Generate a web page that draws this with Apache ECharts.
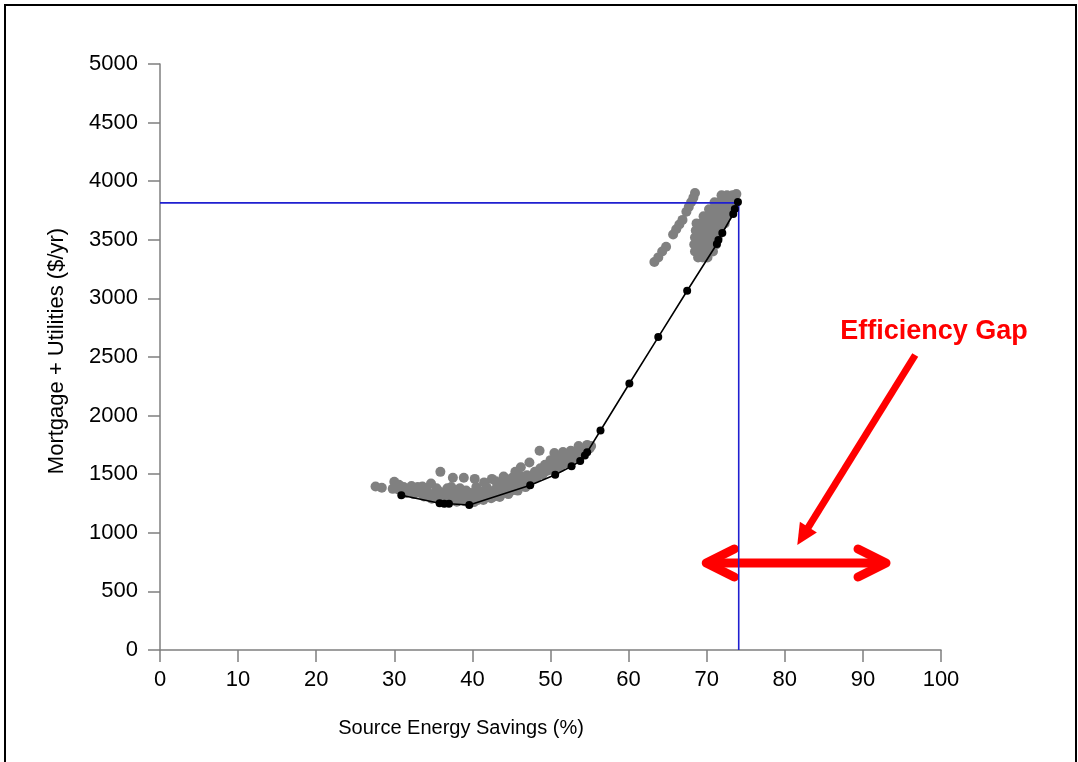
<!DOCTYPE html>
<html>
<head>
<meta charset="utf-8">
<script src="https://cdn.jsdelivr.net/npm/echarts@6/dist/echarts.min.js"></script>
<style>
html,body{margin:0;padding:0;background:#fff;}
#main{width:1078px;height:762px;}
</style>
</head>
<body>
<div id="main"></div>
<script>
// ---- Data ----
const xTicks = [0,10,20,30,40,50,60,70,80,90,100];
const yTicks = [0,500,1000,1500,2000,2500,3000,3500,4000,4500,5000];

// Gray simulation points, lower cluster
const grayLow = [
  [27.6,1395],[28.4,1385],[30.0,1435],[29.8,1375],[30.6,1410],[31.2,1390],[31.8,1360],[32.2,1400],
  [32.8,1370],[33.3,1340],[33.6,1395],[34.2,1355],[34.7,1420],[35.0,1330],[35.4,1380],[35.9,1520],
  [36.0,1300],[36.5,1350],[37.0,1310],[37.3,1390],[37.5,1470],[37.8,1290],[38.2,1340],[38.6,1300],
  [38.9,1470],[39.2,1360],[39.6,1290],[40.0,1320],[40.3,1460],[40.7,1280],[41.0,1350],[41.4,1300],
  [41.8,1390],[42.2,1330],[42.5,1460],[42.9,1370],[43.3,1410],[43.6,1340],[44.0,1440],[44.4,1380],
  [44.8,1420],[45.1,1470],[45.5,1400],[45.9,1450],[46.2,1560],[46.6,1430],[47.0,1490],[47.3,1600],
  [47.7,1460],[48.0,1520],[48.3,1480],[48.6,1700],[48.7,1550],[49.0,1500],[49.3,1580],[49.6,1530],
  [50.0,1620],[50.3,1560],[50.5,1680],[50.8,1600],[51.1,1640],[51.3,1560],[51.6,1690],[52.0,1620],
  [52.3,1660],[52.6,1700],[53.0,1650],[53.3,1700],[53.6,1740],[54.0,1680],[54.3,1720],[54.7,1750],
  [55.0,1720],[36.8,1270],[38.0,1265],[39.0,1270],[40.2,1262],[41.4,1280],[42.4,1295],[43.5,1305],
  [33.8,1310],[34.8,1290],[44.6,1330],[45.8,1360],[46.8,1390],[35.6,1360],[37.9,1330],[39.8,1340],
  [30.5,1370],[31.5,1340],[32.5,1330],[33.0,1390],[34.0,1380],[35.2,1300],[36.2,1320],[36.8,1380],
  [37.6,1350],[38.4,1380],[39.4,1320],[40.5,1390],[41.2,1320],[42.0,1360],[42.8,1310],[43.8,1370],
  [44.2,1340],[45.0,1360],[45.3,1420],[46.0,1400],[46.4,1480],[47.2,1440],[47.9,1470],[48.4,1520],
  [49.2,1520],[49.8,1560],[50.2,1590],[50.9,1560],[51.5,1610],[52.2,1590],[52.8,1630],[53.4,1650],
  [54.2,1700],[55.2,1740],[44.0,1480],[45.5,1520],[41.5,1430],[43.0,1440]
];

// Gray simulation points, upper cluster
const grayHigh = [
  [68.5,3900],[68.3,3860],[68.0,3820],[67.7,3780],[67.4,3740],
  [66.9,3670],[66.5,3630],[66.1,3590],[65.7,3545],
  [64.8,3440],[64.3,3400],[63.8,3350],[63.3,3310],
  [71.9,3880],[72.6,3880],[73.3,3880],[73.8,3890],
  [71.0,3820],[71.6,3820],[72.2,3820],[72.8,3820],[73.4,3820],
  [70.3,3760],[70.9,3760],[71.5,3760],[72.1,3760],[72.7,3760],[73.2,3760],
  [69.6,3700],[70.2,3700],[70.8,3700],[71.4,3700],[72.0,3700],[72.6,3700],
  [68.7,3640],[69.3,3640],[69.9,3640],[70.5,3640],[71.1,3640],[71.7,3640],[72.3,3640],
  [68.6,3580],[69.2,3580],[69.8,3580],[70.4,3580],[71.0,3580],[71.7,3580],
  [68.5,3520],[69.1,3520],[69.7,3520],[70.3,3520],[70.9,3520],[71.4,3520],
  [68.4,3460],[69.0,3460],[69.6,3460],[70.2,3460],[70.8,3460],[71.2,3460],
  [68.5,3400],[69.1,3400],[69.7,3400],[70.3,3400],[70.8,3400],
  [68.9,3350],[69.5,3350],[70.1,3350]
];

// Black optimal path (least-cost curve)
const pathX = [30.9,35.8,36.4,37.0,39.6,47.4,50.6,52.7,53.8,54.4,54.7,56.4,60.1,63.8,67.5,71.3,71.5,72.0,73.4,73.6,74.0];
const pathY = [1320,1252,1248,1248,1237,1405,1495,1567,1613,1660,1688,1873,2274,2670,3065,3464,3498,3558,3720,3763,3823];

// Blue reference lines (target point)
const refX = [0, 74.1, 74.1];
const refY = [3815, 3815, 0];

// Annotation anchor points (data coordinates)
const gapArrowX = [69.3, 93.6];
const gapArrowY = 742;
const pointerFrom = [96.7, 2517];
const pointerTo = [81.6, 896];
const gapLabelPos = [99.1, 2713];
const gapLabel = 'Efficiency Gap';
const xTitle = 'Source Energy Savings (%)';
const yTitle = 'Mortgage + Utilities ($/yr)';

const FONT = '"Liberation Sans", Arial, Helvetica, sans-serif';

const chart = echarts.init(document.getElementById('main'), null, {renderer:'canvas'});

const option = {
  backgroundColor: '#fff',
  animation: false,
  grid: {left:160, right:137, top:64, bottom:112, containLabel:false},
  xAxis: {
    type:'value', min:0, max:100, interval:10,
    axisLine:{show:true, lineStyle:{color:'#7f7f7f', width:1.5}},
    axisTick:{show:true, length:12, lineStyle:{color:'#7f7f7f', width:1.5}},
    splitLine:{show:false},
    axisLabel:{color:'#000', fontSize:22, fontFamily:FONT, margin:19, formatter:v=>String(v)}
  },
  yAxis: {
    type:'value', min:0, max:5000, interval:500,
    axisLine:{show:true, lineStyle:{color:'#7f7f7f', width:1.5}},
    axisTick:{show:true, length:12, lineStyle:{color:'#7f7f7f', width:1.5}},
    splitLine:{show:false},
    axisLabel:{color:'#000', fontSize:22, fontFamily:FONT, margin:22, formatter:v=>String(v)}
  },
  series: [
    {
      type:'scatter', name:'sims', z:2,
      data: grayLow.concat(grayHigh),
      symbol:'circle', symbolSize:10,
      itemStyle:{color:'#808080', opacity:1}
    },
    {
      type:'line', name:'ref', z:3,
      data: refX.map((x,i)=>[x, refY[i]]),
      symbol:'none', lineStyle:{color:'#1f1fd0', width:1.6}
    },
    {
      type:'line', name:'path', z:4,
      data: pathX.map((x,i)=>[x, pathY[i]]),
      symbol:'circle', symbolSize:8, showSymbol:true,
      itemStyle:{color:'#000'},
      lineStyle:{color:'#000', width:1.6}
    }
  ]
};
chart.setOption(option);

function px(pt){ return chart.convertToPixel({gridIndex:0}, pt); }

const L = px([gapArrowX[0], gapArrowY]);
const R = px([gapArrowX[1], gapArrowY]);
const PF = px(pointerFrom);
const PT = px(pointerTo);
const TL = px(gapLabelPos);

// pointer arrow head geometry
const dx = PT[0]-PF[0], dy = PT[1]-PF[1];
const len = Math.sqrt(dx*dx+dy*dy);
const ux = dx/len, uy = dy/len;
const headLen = 21, headHalf = 10;
const bx = PT[0]-ux*headLen, by = PT[1]-uy*headLen;
const nx = -uy, ny = ux;

const red = '#ff0000';
const lx = L[0]+5, rx = R[0]-5;
chart.setOption({
  graphic: [
    {type:'rect', z:0, silent:true, shape:{x:5, y:5, width:1071, height:800},
     style:{fill:null, stroke:'#000', lineWidth:2}},
    {type:'line', z:1, shape:{x1:lx+4, y1:L[1], x2:rx-4, y2:R[1]},
     style:{stroke:red, lineWidth:9}},
    {type:'polyline', z:1, shape:{points:[[lx+28,L[1]-14],[lx,L[1]],[lx+28,L[1]+14]]},
     style:{stroke:red, lineWidth:9, lineCap:'round', lineJoin:'round', fill:null}},
    {type:'polyline', z:1, shape:{points:[[rx-28,R[1]-14],[rx,R[1]],[rx-28,R[1]+14]]},
     style:{stroke:red, lineWidth:9, lineCap:'round', lineJoin:'round', fill:null}},
    {type:'line', z:1, shape:{x1:PF[0], y1:PF[1], x2:bx+ux*2, y2:by+uy*2},
     style:{stroke:red, lineWidth:7, lineCap:'butt'}},
    {type:'polygon', z:1, shape:{points:[[PT[0],PT[1]],[bx+nx*headHalf,by+ny*headHalf],[bx-nx*headHalf,by-ny*headHalf]]},
     style:{fill:red}},
    {type:'text', z:5, x:TL[0], y:TL[1],
     style:{text:gapLabel, fill:red, font:'bold 27px '+FONT, align:'center', verticalAlign:'middle'}},
    {type:'text', z:5, x:461, y:728,
     style:{text:xTitle, fill:'#000', font:'20px '+FONT, align:'center', verticalAlign:'middle'}},
    {type:'text', z:5, x:57, y:351, rotation:Math.PI/2,
     style:{text:yTitle, fill:'#000', font:'22px '+FONT, align:'center', verticalAlign:'middle'}}
  ]
});
</script>
</body>
</html>
